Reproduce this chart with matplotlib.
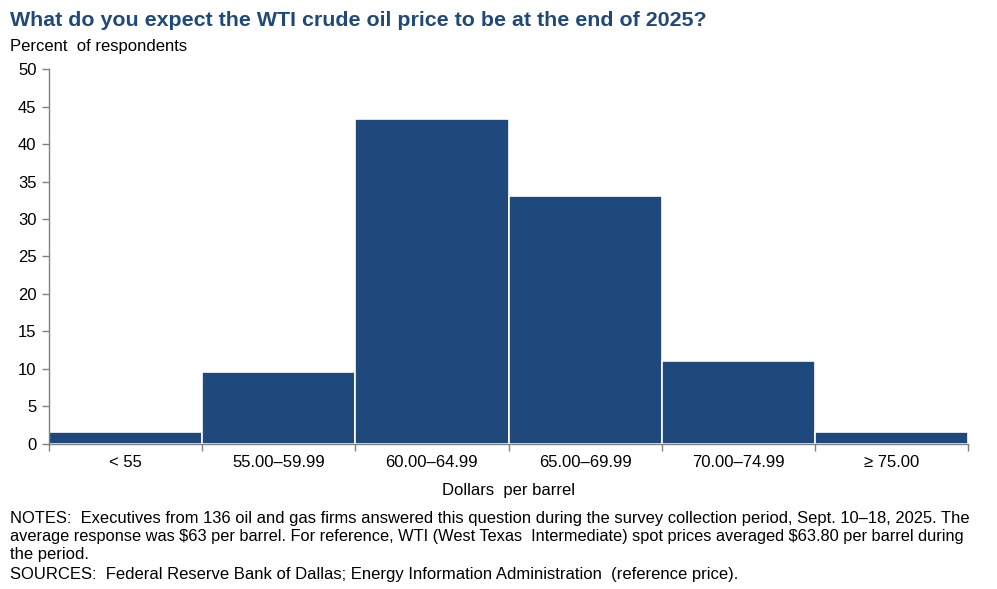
import matplotlib
matplotlib.use("Agg")
import matplotlib.pyplot as plt
import numpy as np

categories = ["< 55", "55.00\u201359.99", "60.00\u201364.99", "65.00\u201369.99", "70.00\u201374.99", "\u2265 75.00"]
values = [1.47, 9.56, 43.38, 33.09, 11.03, 1.47]
yticks = [0, 5, 10, 15, 20, 25, 30, 35, 40, 45, 50]

plt.rcParams['font.family'] = ['Liberation Sans', 'DejaVu Sans']

fig = plt.figure(figsize=(9.97, 5.89), dpi=100)
W, H = 997, 589
ax = fig.add_axes([49 / W, 1 - 443.5 / H, (968 - 49) / W, (443.5 - 69.3) / H])

navy = "#1F497D"
x = np.arange(len(categories))
ax.bar(x + 0.5, values, width=1.0, color=navy, edgecolor="white", linewidth=1.2)
ax.set_xlim(0, len(categories))
ax.set_ylim(0, 50)
ax.set_yticks(yticks)
ax.set_yticklabels([str(t) for t in yticks], fontsize=12)
ax.set_xticks(np.arange(len(categories) + 1))
ax.set_xticklabels([])
ax.set_xticks(x + 0.5, minor=True)
ax.set_xticklabels(categories, minor=True, fontsize=12)
ax.tick_params(axis='x', which='minor', length=0, pad=8)
ax.tick_params(axis='x', which='major', length=5, color="#808080", width=1)
ax.tick_params(axis='y', length=5, color="#808080", width=1, pad=4)
for s in ["top", "right"]:
    ax.spines[s].set_visible(False)
for s in ["left", "bottom"]:
    ax.spines[s].set_color("#808080")
    ax.spines[s].set_linewidth(1)

fig.text(10 / W, 1 - 21 / H, "What do you expect the WTI crude oil price to be at the end of 2025?",
         fontsize=15.4, fontweight="bold", color=navy, va="center", ha="left")
fig.text(10 / W, 1 - 46 / H, "Percent  of respondents", fontsize=12, va="center", ha="left")
fig.text((49 + 968) / 2 / W, 1 - 491 / H, "Dollars  per barrel", fontsize=12, va="center", ha="center")

note_lines = [
    ("NOTES:  Executives from 136 oil and gas firms answered this question during the survey collection period, Sept. 10\u201318, 2025. The", True),
    ("average response was \\$63 per barrel. For reference, WTI (West Texas  Intermediate) spot prices averaged \\$63.80 per barrel during", True),
    ("the period.", False),
    ("SOURCES:  Federal Reserve Bank of Dallas; Energy Information Administration  (reference price).", False),
]
renderer = fig.canvas.get_renderer()
x0, x1 = 10, 968
ys = [519, 537, 555, 574]
for (line, fill), yy in zip(note_lines, ys):
    t = fig.text(x0 / W, 1 - yy / H, line, fontsize=12, va="center", ha="left")
    if fill:
        w = t.get_window_extent(renderer).width
        t.set_fontsize(12 * (x1 - x0) / w)

fig.savefig("out.png", dpi=100, facecolor="white")
